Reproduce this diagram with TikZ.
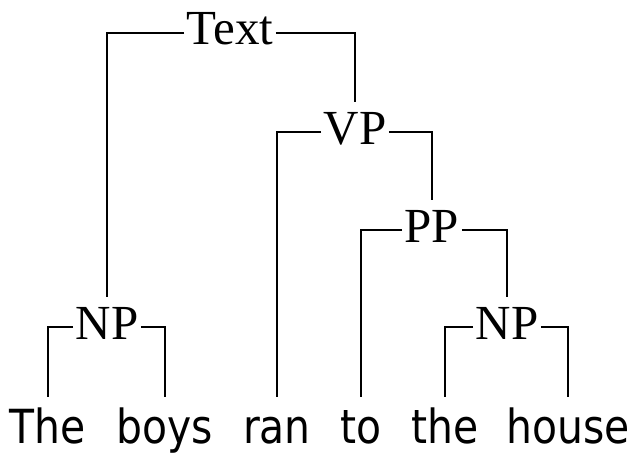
\documentclass[tikz,border=0pt]{standalone}
\usepackage{fontspec}
\setmainfont{Liberation Serif}
\newfontfamily\wordfont[FakeStretch=0.87]{DejaVu Sans}

\begin{document}
\begin{tikzpicture}[x=1pt, y=-1pt, line width=1.3pt,
    cat/.style={font=\fontsize{49}{52}\selectfont, inner xsep=2pt, inner ysep=10pt, text height=31pt, text depth=7pt},
    word/.style={font=\wordfont\fontsize{47}{50}\selectfont, anchor=base, inner xsep=0pt, inner ysep=10pt, text height=35pt, text depth=0pt}]
  \useasboundingbox (0, 0) rectangle (638, 455);
  % categories
  \node[cat] (text) at (230, 33) {Text};
  \node[cat] (vp) at (355, 132) {VP};
  \node[cat] (pp) at (432, 230) {PP};
  \node[cat] (np1) at (107, 327) {NP};
  \node[cat] (np2) at (507, 327) {NP};
  % words
  \node[word] (the1) at (48, 443) {The};
  \node[word] (boys) at (165, 443) {boys};
  \node[word] (ran) at (277, 443) {ran};
  \node[word] (to) at (361, 443) {to};
  \node[word] (the2) at (445, 443) {the};
  \node[word] (house) at (568, 443) {house};
  % branches
  \draw (text.west) -| (np1.north);
  \draw (text.east) -| (vp.north);
  \draw (vp.west) -| (ran.north);
  \draw (vp.east) -| (pp.north);
  \draw (pp.west) -| (to.north);
  \draw (pp.east) -| (np2.north);
  \draw (np1.west) -| (the1.north);
  \draw (np1.east) -| (boys.north);
  \draw (np2.west) -| (the2.north);
  \draw (np2.east) -| (house.north);
\end{tikzpicture}
\end{document}
